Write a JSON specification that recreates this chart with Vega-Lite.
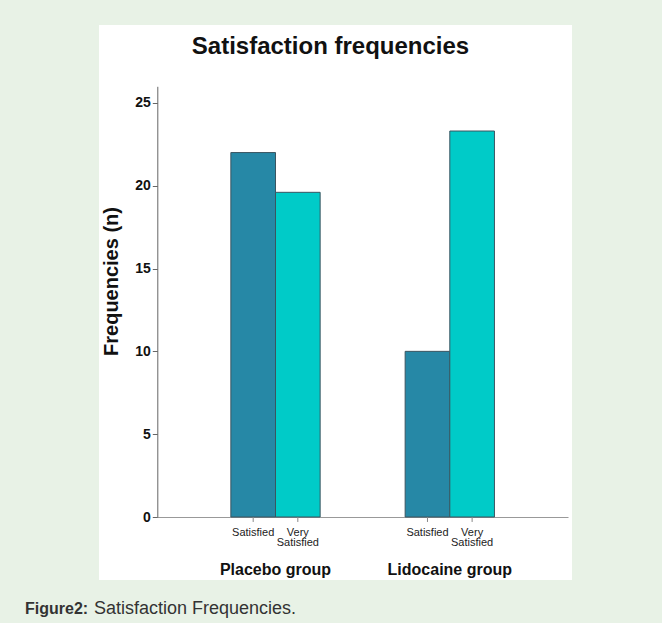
{
  "$schema": "https://vega.github.io/schema/vega-lite/v6.json",
  "background": "#e8f2e6",
  "padding": {"left": 25, "top": 25, "right": 90, "bottom": 12},
  "autosize": {"type": "pad"},
  "config": {
    "view": {"fill": "white", "stroke": null},
    "font": "Liberation Sans"
  },
  "title": {"text": "Satisfaction Frequencies.", "orient": "bottom", "anchor": "start", "frame": "bounds", "offset": -3, "dx": 69, "baseline": "alphabetic", "fontSize": 18, "fontWeight": "normal", "color": "#333333"},
  "vconcat": [
    {
      "title": {"text": "Figure2:", "orient": "bottom", "anchor": "start", "frame": "bounds", "offset": 34, "dx": -74, "baseline": "alphabetic", "fontSize": 16, "fontWeight": "bold", "color": "#333333"},
      "vconcat": [
        {
          "width": 473,
          "height": 555,
          "title": {"text": "Satisfaction frequencies", "anchor": "middle", "frame": "group", "orient": "top", "offset": -53, "dx": -5, "baseline": "alphabetic", "fontSize": 24, "fontWeight": "bold", "color": "#111111"},
          "data": {"values": [
            {"group": "Placebo group", "category": "Satisfied", "value": 22},
            {"group": "Placebo group", "category": "Very Satisfied", "value": 19.6},
            {"group": "Lidocaine group", "category": "Satisfied", "value": 10},
            {"group": "Lidocaine group", "category": "Very Satisfied", "value": 23.3}
          ]},
          "layer": [
            {
              "mark": {"type": "bar", "stroke": "#3a5561", "strokeWidth": 1},
              "encoding": {
                "x": {"field": "group", "type": "nominal", "sort": null,
                  "scale": {"range": [58.3, 469], "paddingInner": 0.4877, "paddingOuter": 0.422},
                  "axis": {"title": null, "orient": "bottom", "offset": -63, "domainColor": "#999999", "ticks": false, "tickSize": 0, "labelFontSize": 16, "labelFontWeight": "bold", "labelColor": "#111111", "labelPadding": 44, "labelAngle": 0}},
                "xOffset": {"field": "category", "type": "nominal", "sort": null},
                "y": {"field": "value", "type": "quantitative",
                  "scale": {"domain": [0, 26], "range": [492, 61.3], "nice": false},
                  "axis": {"values": [0, 5, 10, 15, 20, 25], "offset": -58.3, "grid": false, "domainColor": "#666666", "tickColor": "#666666", "tickSize": 5, "labelFontSize": 14, "labelFontWeight": "bold", "labelColor": "#111111", "labelPadding": 2, "title": "Frequencies (n)", "titleFontSize": 20, "titleFontWeight": "bold", "titleColor": "#111111", "titlePadding": 13, "titleY": 256}},
                "color": {"field": "category", "type": "nominal", "sort": null, "scale": {"range": ["#2688a6", "#00cbc8"]}, "legend": null}
              }
            },
            {
              "mark": {"type": "rule", "color": "#888888", "strokeWidth": 1},
              "encoding": {
                "x": {"field": "group", "type": "nominal", "sort": null},
                "xOffset": {"field": "category", "type": "nominal", "sort": null},
                "y": {"datum": 0},
                "y2": {"datum": -0.3}
              }
            },
            {
              "mark": {"type": "text", "baseline": "top", "align": "center", "lineBreak": " ", "fontSize": 11, "lineHeight": 10, "color": "#222222"},
              "encoding": {
                "x": {"field": "group", "type": "nominal", "sort": null},
                "xOffset": {"field": "category", "type": "nominal", "sort": null},
                "y": {"datum": -0.6},
                "text": {"field": "category", "type": "nominal"}
              }
            }
          ]
        }
      ]
    }
  ]
}
